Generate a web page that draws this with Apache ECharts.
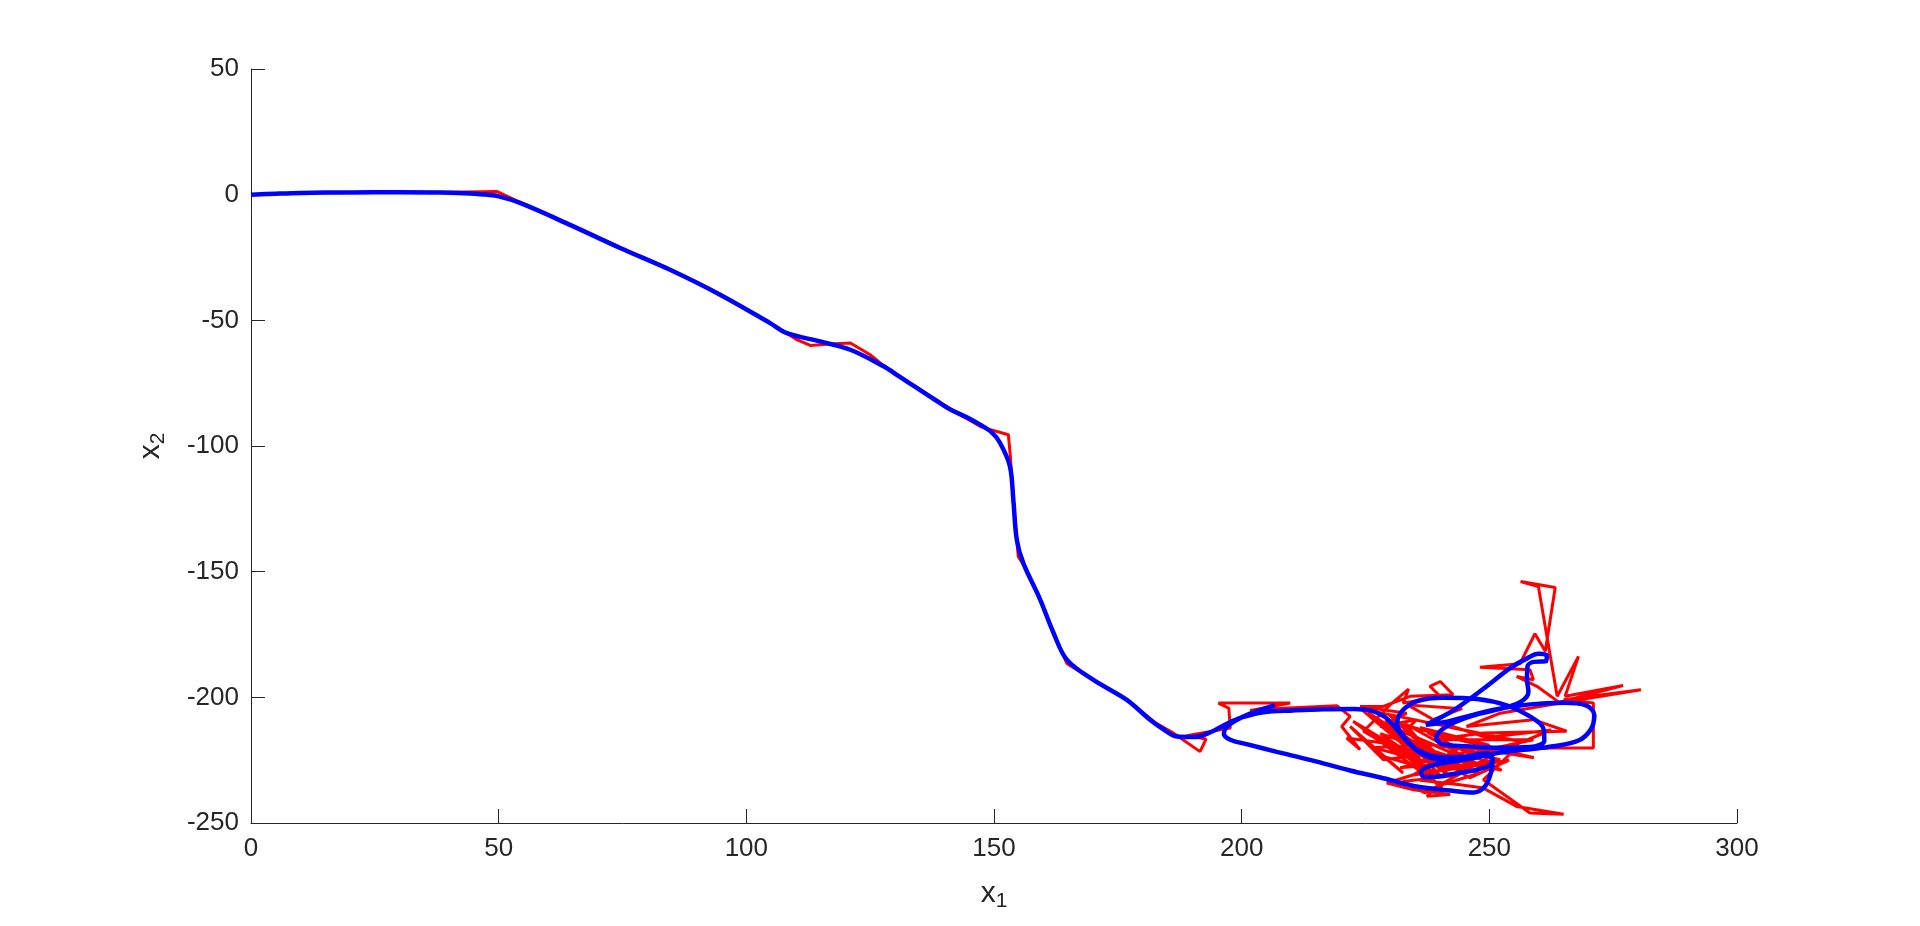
<!DOCTYPE html>
<html>
<head>
<meta charset="utf-8">
<script src="https://cdn.jsdelivr.net/npm/echarts@6/dist/echarts.min.js"></script>
<style>html,body{margin:0;padding:0;background:#fff;}#c{width:1920px;height:926px;}</style>
</head>
<body>
<div id="c"></div>
<script>
// Tick labels
const xTicks = [0, 50, 100, 150, 200, 250, 300];
const yTicks = [-250, -200, -150, -100, -50, 0, 50];

// Blue (smooth estimate) path: main stretch then the cluster
const blueMain = [[0,0],[5,0.4],[10,0.7],[20,0.9],[30,1.0],[38,0.9],[43,0.6],[47,0.1],[50,-0.7],[54.3,-3.3],[64.4,-12.0],[74.5,-21.2],[84.6,-29.9],[94.7,-39.8],[104.8,-51.1],[108.2,-55.1],[114.9,-58.4],[121,-61.7],[127.7,-68.3],[131,-72.5],[134.5,-77],[138,-81.5],[141.1,-85.4],[144.5,-88.6],[147.2,-91.5],[149.5,-94.5],[151.2,-98.7],[153.2,-108],[153.9,-121.4],[154.6,-137.3],[155.9,-146.5],[159.3,-161],[162,-174.3],[164.7,-185],[170,-193],[176.8,-201]];
const blueCluster = [[181.5,-208.9],[184.2,-212.7],[186.9,-215.6],[190.3,-215.8],[193.6,-214.0],[196.6,-210.9],[200.0,-208.0],[204.4,-205.9],[210.4,-205.2],[216.5,-204.7],[222.6,-204.6],[226.3,-205.4],[229.0,-207.9],[231.3,-212.7],[233.7,-218.2],[236.4,-222.6],[239.4,-224.6],[243.4,-224.9],[248.1,-223.3],[250.5,-223.5],[250.3,-226.6],[247.8,-228.6],[243.4,-230.2],[239.4,-231.5],[236.8,-231.7],[236.2,-229.8],[237.7,-227.6],[241.4,-225.9],[246.1,-224.5],[251.5,-222.2],[256.9,-220.9],[262.9,-219.5],[268.0,-217.2],[270.5,-212.7],[271.2,-207.0],[269.5,-203.2],[265.0,-202.2],[258.2,-202.8],[251.5,-204.7],[246.1,-207.3],[241.7,-209.6],[237.2,-210.9],[242.4,-205.6],[248.8,-196.6],[254.2,-188.4],[257.6,-184.5],[259.9,-182.7],[261.6,-183.3],[261.5,-185.6],[258.9,-185.9],[257.7,-187.7],[257.6,-193.0],[257.9,-197.7],[256.5,-201.6],[252.8,-204.3],[248.1,-206.5],[243.4,-209.6],[240.4,-212.9],[239.3,-216.2],[240.4,-218.5],[245.4,-219.5],[252.2,-220.1],[258.2,-219.8],[261.1,-217.3],[260.9,-212.3],[258.2,-207.6],[253.5,-203.2],[247.5,-200.7],[240.7,-200.2],[235.3,-201.6],[232.3,-205.6],[231.4,-210.3],[233.0,-216.2],[236.0,-221.5],[240.7,-223.8],[245.4,-223.5],[249.5,-222.2],[250.7,-224.9],[250.3,-230.2],[249.1,-235.5],[246.8,-237.9],[242.1,-237.1],[235.3,-235.5],[228.6,-232.2],[221.9,-229.1],[213.8,-224.9],[207.1,-221.7],[201.0,-218.6],[197.7,-216.9],[196.4,-214.5],[196.9,-211.9],[198.7,-209.3],[201.7,-206.5],[206.7,-203.1]];

// Red (noisy measurement) path
const redMain = [[0,0],[5,0.4],[10,0.7],[20,0.9],[30,1.0],[40,1.0],[49.6,1.3],[53.6,-2.4],[64.4,-11.8],[74.5,-21.0],[84.6,-29.7],[94.7,-39.6],[104.8,-51.0],[110.2,-57.7],[112.9,-60.0],[116.9,-59.4],[121,-59.0],[125,-63.7],[127.7,-68.0],[134.5,-76.8],[141.1,-85.2],[147.5,-92.5],[152.9,-95.5],[153.3,-104],[153.9,-121.4],[154.9,-144],[156.2,-148],[159.3,-161],[162,-174.3],[164.7,-186.5],[170,-193],[176.8,-201],[182.5,-210],[186.2,-214.2],[191.6,-221.6]];
const redCluster = [[192.8,-216.6],[188.9,-215.3],[197.7,-212.2],[197.4,-204.3],[195.3,-202.3],[209.8,-202.3],[201.7,-205.2],[208.4,-204.3],[219.2,-203.3],[221.9,-207.6],[220.2,-211.6],[223.9,-220.8],[221.2,-216.2],[228.6,-218.2],[224.6,-213.5],[230.0,-202.9],[233.7,-196.7],[232.6,-202.3],[240.1,-199.6],[238.0,-195.6],[240.1,-193.7],[242.7,-199.0],[234.0,-199.6],[228.6,-203.6],[223.9,-203.6],[233.3,-206.3],[227.9,-211.6],[235.3,-208.9],[231.3,-216.9],[239.4,-222.2],[228.6,-224.8],[221.9,-211.6],[232.6,-230.1],[228.6,-223.5],[238.0,-228.8],[229.3,-234.1],[234.7,-236.8],[242.1,-238.7],[237.4,-239.4],[239.4,-235.4],[248.1,-230.1],[242.1,-227.5],[252.2,-224.8],[246.1,-222.2],[258.9,-216.9],[238.7,-216.9],[248.8,-214.2],[265.6,-213.5],[258.9,-208.9],[245.4,-211.6],[252.2,-206.3],[264.3,-202.3],[259.6,-195.6],[255.5,-191.7],[258.9,-193.0],[258.2,-189.0],[248.1,-188.0],[256.2,-186.6],[259.2,-174.7],[261.3,-181.7],[263.3,-156.3],[256.3,-153.9],[259.9,-155.9],[263.7,-199.6],[268.0,-183.7],[265.3,-199.6],[277.0,-195.3],[262.0,-203.0],[280.6,-197.0],[265.0,-201.0],[271.0,-202.3],[271.0,-220.2],[262.0,-220.2],[255.0,-221.0],[248.8,-232.8],[258.2,-246.0],[265.0,-246.5],[255.5,-243.4],[248.8,-236.1],[244.1,-234.8],[236.0,-233.0],[243.0,-226.0],[232.0,-228.0],[247.0,-221.0],[234.0,-218.0],[240.0,-231.0],[226.0,-215.0],[239.0,-225.0],[229.0,-209.0],[244.0,-217.0],[236.0,-212.0],[250.0,-219.0],[241.0,-229.0],[254.0,-225.0],[246.0,-232.0],[238.0,-222.0],[225.5,-206.0],[242.0,-231.5],[233.0,-210.5],[249.0,-228.0],[228.0,-214.5],[236.5,-226.0],[222.5,-209.5],[240.5,-236.0],[231.0,-219.5],[252.5,-229.0],[237.5,-214.0],[259.0,-224.0],[244.5,-219.5],[234.5,-231.0],[247.5,-226.5],[230.5,-212.0],[239.0,-219.0],[226.5,-220.0],[245.0,-229.5],[237.0,-238.0],[232.5,-233.5],[243.5,-231.0],[252.0,-221.5],[262.5,-213.0],[249.5,-216.0],[238.5,-209.0],[244.5,-204.5],[233.5,-203.0],[241.0,-211.5],[256.0,-217.5],[224.0,-204.5],[236.0,-224.5],[227.0,-208.0],[243.0,-228.0],[229.5,-206.5],[240.5,-226.5]];

const blueData = blueMain.concat(blueCluster);
const redData = redMain.concat(redCluster);

const axisColor = '#262626';
const font = '"Liberation Sans", Arial, Helvetica, sans-serif';

const chart = echarts.init(document.getElementById('c'), null, {renderer: 'canvas'});
chart.setOption({
  animation: false,
  backgroundColor: '#ffffff',
  grid: {left: 251, right: 183, top: 69, bottom: 103, containLabel: false},
  xAxis: {
    type: 'value', min: xTicks[0], max: xTicks[xTicks.length-1], interval: 50,
    axisLine: {show: true, onZero: false, lineStyle: {color: axisColor, width: 1}},
    axisTick: {show: true, inside: true, length: 14, lineStyle: {color: axisColor}},
    splitLine: {show: false},
    axisLabel: {color: axisColor, fontSize: 26, fontFamily: font, margin: 13},
    name: '{a|x}{b|1}', nameLocation: 'middle', nameGap: 52,
    nameTextStyle: {rich: {a: {fontSize: 30, fontFamily: font, color: axisColor}, b: {fontSize: 21, fontFamily: font, color: axisColor, padding: [16,0,0,0]}}}
  },
  yAxis: {
    type: 'value', min: yTicks[0], max: yTicks[yTicks.length-1], interval: 50,
    axisLine: {show: true, onZero: false, lineStyle: {color: axisColor, width: 1}},
    axisTick: {show: true, inside: true, length: 14, lineStyle: {color: axisColor}},
    splitLine: {show: false},
    axisLabel: {color: axisColor, fontSize: 26, fontFamily: font, margin: 12},
    name: '{a|x}{b|2}', nameLocation: 'middle', nameGap: 82, nameRotate: 90,
    nameTextStyle: {rich: {a: {fontSize: 30, fontFamily: font, color: axisColor}, b: {fontSize: 21, fontFamily: font, color: axisColor, padding: [16,0,0,0]}}}
  },
  series: [
    {type: 'line', data: redData, showSymbol: false, symbol: 'none', lineStyle: {color: '#ff0000', width: 3}, z: 2},
    {type: 'line', data: blueData, showSymbol: false, symbol: 'none', smooth: 0.35, lineStyle: {color: '#0000ff', width: 4.5}, z: 3}
  ]
});
</script>
</body>
</html>
